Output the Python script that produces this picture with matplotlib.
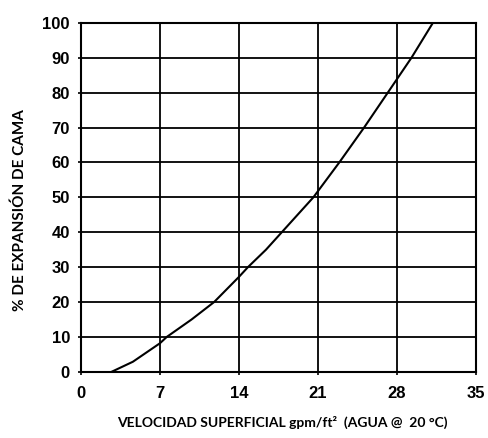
import matplotlib
matplotlib.use("Agg")
from matplotlib import pyplot as plt

# velocidad superficial (gpm/ft2) vs % expansion de cama
velocidad = [2.7, 4.6, 7.0, 7.6, 9.8, 11.8, 14.0, 14.8, 16.4, 17.8, 20.6, 22.9, 25.1, 27.2, 29.3, 31.2]
expansion = [0, 2.9, 8.2, 10, 15, 20, 27.2, 30, 35, 40, 50, 60, 70, 80, 90, 100]

x_ticks = [0, 7, 14, 21, 28, 35]
y_ticks = [0, 10, 20, 30, 40, 50, 60, 70, 80, 90, 100]

fig = plt.figure(figsize=(4.88, 4.38), dpi=100)
ax = fig.add_axes([0.166, 0.151, 0.809, 0.797])

ax.plot(velocidad, expansion, color="black", lw=1.5)

ax.set_xlim(0, 35)
ax.set_ylim(0, 100)
ax.set_xticks(x_ticks)
ax.set_yticks(y_ticks)
ax.grid(True, color="black", lw=1.3)
for s in ax.spines.values():
    s.set_linewidth(1.5)
ax.tick_params(axis="x", length=2, width=1.2, pad=8)
ax.tick_params(axis="y", length=2, width=1.2, pad=6)
for lbl in ax.get_xticklabels() + ax.get_yticklabels():
    lbl.set_fontfamily("Liberation Sans")
    lbl.set_fontweight("bold")
    lbl.set_fontsize(12)

fig.text(0.578, 0.036, "VELOCIDAD SUPERFICIAL gpm/ft\u00b2  (AGUA @  20 \u00b0C)",
         ha="center", va="center", fontsize=10, fontweight="bold", family="Lato")
fig.text(0.04, 0.52, "% DE EXPANSI\u00d3N DE CAMA", rotation=90,
         ha="center", va="center", fontsize=11, fontweight="bold", family="Lato")

fig.savefig("out.png", dpi=100)
